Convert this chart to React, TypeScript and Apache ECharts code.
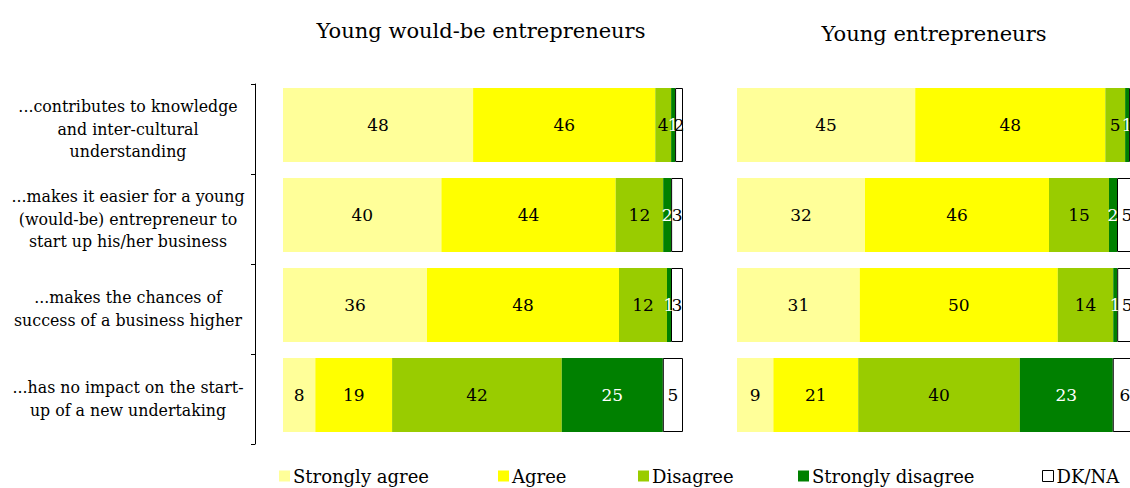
import React, { useEffect, useRef } from "react";
import * as echarts from "echarts";

const categories = [
  "...contributes to knowledge\nand inter-cultural\nunderstanding",
  "...makes it easier for a young\n(would-be) entrepreneur to\nstart up his/her business",
  "...makes the chances of\nsuccess of a business higher",
  "...has no impact on the start-\nup of a new undertaking",
];
const panelTitles = ["Young would-be entrepreneurs", "Young entrepreneurs"];
const seriesNames = ["Strongly agree", "Agree", "Disagree", "Strongly disagree", "DK/NA"];
const colors = ["#FFFF99", "#FFFF00", "#99CC00", "#008000", "#FFFFFF"];

// Young would-be entrepreneurs
const wbStronglyAgree = [48, 40, 36, 8];
const wbAgree = [46, 44, 48, 19];
const wbDisagree = [4, 12, 12, 42];
const wbStronglyDisagree = [1, 2, 1, 25];
const wbDkNa = [2, 3, 3, 5];

// Young entrepreneurs
const yeStronglyAgree = [45, 32, 31, 9];
const yeAgree = [48, 46, 50, 21];
const yeDisagree = [5, 15, 14, 40];
const yeStronglyDisagree = [1, 2, 1, 23];
const yeDkNa = [2, 5, 5, 6];

const legendLefts = [274, 493, 633, 793, 1037];

const FONT = "DejaVu Serif";

function buildPanel(rows: number[][], axisIndex: number) {
  const sums = categories.map((_, i) => rows.reduce((s, r) => s + r[i], 0));
  return rows.map((r, si) => ({
    name: seriesNames[si],
    type: "bar",
    stack: "panel" + axisIndex,
    xAxisIndex: axisIndex,
    yAxisIndex: axisIndex,
    barWidth: 74,
    data: r.map((v, i) => ({ value: (v / sums[i]) * 100, raw: v })),
    itemStyle:
      si === 4
        ? { color: colors[si], borderColor: "#000", borderWidth: 1 }
        : { color: colors[si] },
    label: {
      show: true,
      position: "inside",
      fontFamily: FONT,
      fontSize: 17,
      color: si === 3 ? "#fff" : "#000",
      formatter: (p: any) => String(p.data.raw),
    },
  }));
}

export default function App() {
  const ref = useRef<HTMLDivElement>(null);
  useEffect(() => {
    document.body.style.margin = "0";
    const chart = echarts.init(ref.current!, null, { renderer: "svg" });
    const series = [
      ...buildPanel([wbStronglyAgree, wbAgree, wbDisagree, wbStronglyDisagree, wbDkNa], 0),
      ...buildPanel([yeStronglyAgree, yeAgree, yeDisagree, yeStronglyDisagree, yeDkNa], 1),
    ];
    const barTop = 80;
    const axisTop = 84;
    const gridHeight = 360;
    chart.setOption({
      animation: false,
      backgroundColor: "#fff",
      title: [
        {
          text: panelTitles[0],
          left: 476,
          top: 15,
          textAlign: "center",
          textStyle: { fontFamily: FONT, fontSize: 21, fontWeight: "normal", color: "#000" },
        },
        {
          text: panelTitles[1],
          left: 929,
          top: 18,
          textAlign: "center",
          textStyle: { fontFamily: FONT, fontSize: 21, fontWeight: "normal", color: "#000" },
        },
      ],
      legend: seriesNames.map((n, i) => ({
        left: legendLefts[i],
        top: 462,
        itemWidth: 11,
        itemHeight: 11,
        itemGap: 0,
        icon: "rect",
        selectedMode: false,
        data: [
          i === 4
            ? { name: n, itemStyle: { color: "#fff", borderColor: "#000", borderWidth: 1 } }
            : { name: n, itemStyle: { color: colors[i], borderWidth: 0 } },
        ],
        textStyle: { fontFamily: FONT, fontSize: 18, color: "#000", padding: [0, 0, 0, -2] },
      })),
      grid: [
        { left: 283, width: 400, top: barTop, height: gridHeight },
        { left: 737, width: 400, top: barTop, height: gridHeight },
        { left: 283, width: 400, top: axisTop, height: gridHeight },
      ],
      xAxis: [0, 1, 2].map((g) => ({
        type: "value",
        gridIndex: g,
        min: 0,
        max: 100,
        show: false,
      })),
      yAxis: [
        {
          type: "category",
          gridIndex: 0,
          data: categories,
          inverse: true,
          show: false,
        },
        {
          type: "category",
          gridIndex: 1,
          data: categories,
          inverse: true,
          show: false,
        },
        {
          type: "category",
          gridIndex: 2,
          data: categories,
          inverse: true,
          offset: 28,
          axisLine: { show: true, onZero: false, lineStyle: { color: "#000", width: 1 } },
          axisTick: { show: true, length: 4, lineStyle: { color: "#000" } },
          axisLabel: {
            fontFamily: FONT,
            fontSize: 15.8,
            lineHeight: 22.5,
            color: "#000",
            align: "center",
            margin: 127,
          },
          splitLine: { show: false },
        },
      ],
      series,
    });
    return () => chart.dispose();
  }, []);
  return (
    <div style={{ width: 1130, height: 488, overflow: "hidden", position: "relative" }}>
      <div ref={ref} style={{ width: 1140, height: 488 }} />
    </div>
  );
}
